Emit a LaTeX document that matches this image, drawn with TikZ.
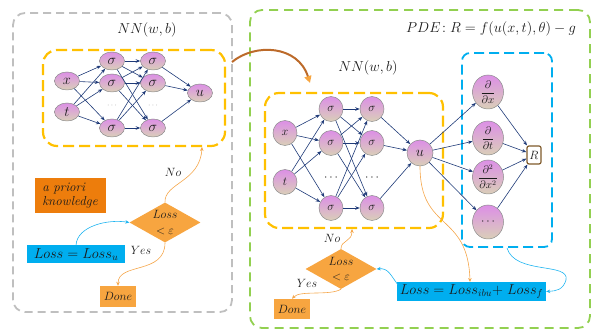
\documentclass[tikz,border=0pt]{standalone}
\usetikzlibrary{shapes.geometric,arrows.meta}
\definecolor{navy}{HTML}{1F3A78}
\definecolor{ntop}{HTML}{DC8FE6}
\definecolor{nbot}{HTML}{DACFB8}
\definecolor{ngray}{HTML}{8C8C8C}
\definecolor{gdash}{HTML}{BFBFBF}
\definecolor{odash}{HTML}{FFC000}
\definecolor{grdash}{HTML}{92D050}
\definecolor{bdash}{HTML}{00AEEF}
\definecolor{oline}{HTML}{F5A64A}
\definecolor{bline}{HTML}{1FB4F0}
\definecolor{aprfill}{HTML}{ED7D0C}
\definecolor{dfill}{HTML}{F7A540}
\definecolor{rbox}{HTML}{7F5A2A}
\definecolor{txt}{HTML}{1A1A1A}
\definecolor{brownarr}{HTML}{BC6A2A}
\newcommand{\myfs}[1]{\fontsize{#1}{#1}\selectfont}
\begin{document}
\begin{tikzpicture}[x=1pt,y=-1pt,
  neuron/.style={ellipse, draw=ngray, line width=0.5pt, top color=ntop, bottom color=nbot, inner sep=0pt, text=txt},
  lneuron/.style={neuron, minimum width=25pt, minimum height=18pt, font=\myfs{13.5}},
  rneuron/.style={neuron, minimum width=24pt, minimum height=25pt, font=\myfs{12.5}},
  dneuron/.style={neuron, minimum width=31pt, minimum height=34pt, font=\myfs{10.5}},
  conn/.style={-{Stealth[length=4.5pt,width=3.5pt]}, draw=navy, line width=0.6pt},
  container/.style={rounded corners=12pt, line width=1.8pt},
  oarr/.style={-{Stealth[length=4pt,width=3.5pt]}, draw=oline, line width=0.6pt},
  barr/.style={-{Stealth[length=4pt,width=3.5pt]}, draw=bline, line width=0.6pt},
  lbl/.style={text=txt, inner sep=1pt},
  dec/.style={diamond, fill=dfill, aspect=1.7, inner sep=0pt, minimum width=71pt, minimum height=40pt, align=center, font=\myfs{12.5}, text=txt},
  donebox/.style={fill=dfill, minimum width=36pt, minimum height=21pt, inner sep=0pt, font=\myfs{12.5}, text=txt},
  lossbox/.style={fill=bdash, inner sep=0pt, font=\myfs{14.5}, text=txt}
]
\useasboundingbox (0,0) rectangle (608,336);

% containers
\node[container, draw=gdash, dash pattern=on 8pt off 5pt, minimum width=219pt, minimum height=299pt] (gbox) at (122.5,162.5) {};
\node[container, draw=grdash, dash pattern=on 9pt off 6pt, minimum width=340pt, minimum height=318pt] (grbox) at (420,169) {};
\node[container, rounded corners=14pt, draw=odash, line width=2.2pt, dash pattern=on 11pt off 5pt, minimum width=182pt, minimum height=96pt] (obox1) at (134,98) {};
\node[container, rounded corners=14pt, draw=odash, line width=2.2pt, dash pattern=on 11pt off 5pt, minimum width=178pt, minimum height=135pt] (obox2) at (354,160.5) {};
\node[container, rounded corners=8pt, draw=bdash, dash pattern=on 10pt off 5pt, minimum width=90pt, minimum height=194pt] (bbox) at (507,150) {};

% titles
\node[lbl, font=\myfs{14}] (nn1) at (147,30) {$NN(w,b)$};
\node[lbl, font=\myfs{14}] (nn2) at (368,68) {$NN(w,b)$};
\node[lbl, font=\myfs{14.5}] (pde) at (491,29) {$PDE\!:R=f(u(x,t),\theta)-g$};

% left network
\node[lneuron] (x1) at (67,81) {$x$};
\node[lneuron] (t1) at (67,112) {$t$};
\node[lneuron] (a1) at (112,61) {$\sigma$};
\node[lneuron] (a2) at (112,83) {$\sigma$};
\node[lneuron] (a3) at (112,128) {$\sigma$};
\node[lneuron] (b1) at (153,61) {$\sigma$};
\node[lneuron] (b2) at (153,83) {$\sigma$};
\node[lneuron] (b3) at (153,128) {$\sigma$};
\node[lneuron, font=\myfs{14}] (u1) at (200,93) {$u$};
\node[lbl, text=ngray, font=\myfs{8}] (ad) at (112,106) {$\cdots$};
\node[lbl, text=ngray, font=\myfs{8}] (bd) at (153,106) {$\cdots$};
\foreach \s in {x1,t1} \foreach \d in {a1,a2,a3} \draw[conn] (\s) -- (\d);
\foreach \s in {a1,a2,a3} \foreach \d in {b1,b2,b3} \draw[conn] (\s) -- (\d);
\foreach \s in {b1,b2,b3} \draw[conn] (\s) -- (u1);

% right network
\node[rneuron] (x2) at (285,133) {$x$};
\node[rneuron] (t2) at (285,182) {$t$};
\node[rneuron] (c1) at (331,109) {$\sigma$};
\node[rneuron] (c2) at (331,143) {$\sigma$};
\node[rneuron] (c3) at (331,208) {$\sigma$};
\node[rneuron] (d1) at (372,109) {$\sigma$};
\node[rneuron] (d2) at (372,143) {$\sigma$};
\node[rneuron] (d3) at (372,208) {$\sigma$};
\node[rneuron, minimum width=26pt, minimum height=26pt, font=\myfs{13.5}] (u2) at (420,153) {$u$};
\node[lbl, font=\myfs{13}] (cd) at (331,178) {$\cdots$};
\node[lbl, font=\myfs{13}] (dd) at (372,178) {$\cdots$};
\foreach \s in {x2,t2} \foreach \d in {c1,c2,c3} \draw[conn] (\s) -- (\d);
\foreach \s in {c1,c2,c3} \foreach \d in {d1,d2,d3} \draw[conn] (\s) -- (\d);
\foreach \s in {d1,d2,d3} \draw[conn] (\s) -- (u2);

% derivatives
\node[dneuron] (p1) at (488,92) {$\displaystyle\frac{\partial}{\partial x}$};
\node[dneuron] (p2) at (488,138) {$\displaystyle\frac{\partial}{\partial t}$};
\node[dneuron] (p3) at (488,177) {$\displaystyle\frac{\partial^2}{\partial x^2}$};
\node[dneuron, font=\myfs{13}] (p4) at (488,222) {$\cdots$};
\node[draw=rbox, line width=1.2pt, rounded corners=2pt, fill=white, minimum width=14pt, minimum height=18pt, inner sep=0pt, font=\myfs{12}, text=txt] (R) at (534,155) {$R$};
\foreach \d in {p1,p2,p3,p4} \draw[conn] (u2) -- (\d);
\foreach \s in {p1,p2,p3,p4} \draw[conn] (\s) -- (R);

% transfer arrow
\coordinate (trs) at (232,62);
\coordinate (tre) at (310,83);
\draw[draw=brownarr, line width=2pt, -{Triangle[length=7pt,width=7pt,color=dfill]}] (trs) .. controls (255,43) and (298,45) .. (tre);

% left bottom
\node[fill=aprfill, minimum width=71pt, minimum height=35pt, inner sep=3pt, align=left, font=\myfs{13}\itshape, text=txt] (apr) at (70,195.5) {a priori\\[1pt]knowledge};
\node[dec] (dec1) at (165,222.5) {$Loss$\\[3pt]$<\varepsilon$};
\node[lossbox, minimum width=98pt, minimum height=18pt] (loss1) at (76,254.5) {$Loss=Loss_u$};
\node[donebox] (done1) at (118,296.5) {$Done$};
\node[lbl, font=\myfs{12.5}] (no1) at (173,172) {$No$};
\node[lbl, font=\myfs{12.5}] (yes1) at (141,250) {$Yes$};
\coordinate (nob1) at (202,147);
\draw[oarr] (dec1.north) .. controls (164,183) and (200,182) .. (nob1);
\draw[oarr] (dec1.south) .. controls (165,275) and (118,262) .. (done1.north);
\draw[barr] (loss1.north) .. controls (77,226) and (108,219) .. (dec1.west);

% right bottom
\node[dec] (dec2) at (341,269) {$Loss$\\[3pt]$<\varepsilon$};
\node[donebox, minimum height=20pt] (done2) at (292,309) {$Done$};
\node[lossbox, minimum width=149pt, minimum height=19pt] (loss2) at (471.5,291.5) {$Loss=Loss_{ibu}{+}\;Loss_f$};
\node[lbl, font=\myfs{12.5}] (no2) at (332,238) {$No$};
\node[lbl, font=\myfs{12.5}] (yes2) at (307,283) {$Yes$};
\coordinate (nob2) at (352,229);
\draw[oarr] (dec2.north) .. controls (341,240) and (352,242) .. (nob2);
\draw[oarr] (dec2.south) .. controls (330,296) and (300,290) .. (done2.north);
\coordinate (lb2) at (398,285);
\draw[barr] (lb2) .. controls (390,274) and (388,268) .. (dec2.east);
\coordinate (bb) at (507,248);
\draw[barr] (bb) .. controls (515,275) and (570,262) .. (566,280) .. controls (563,290) and (556,291) .. (loss2.east);
\draw[oarr] (u2.south) .. controls (420,232) and (468,212) .. (470,282);
\end{tikzpicture}
\end{document}
